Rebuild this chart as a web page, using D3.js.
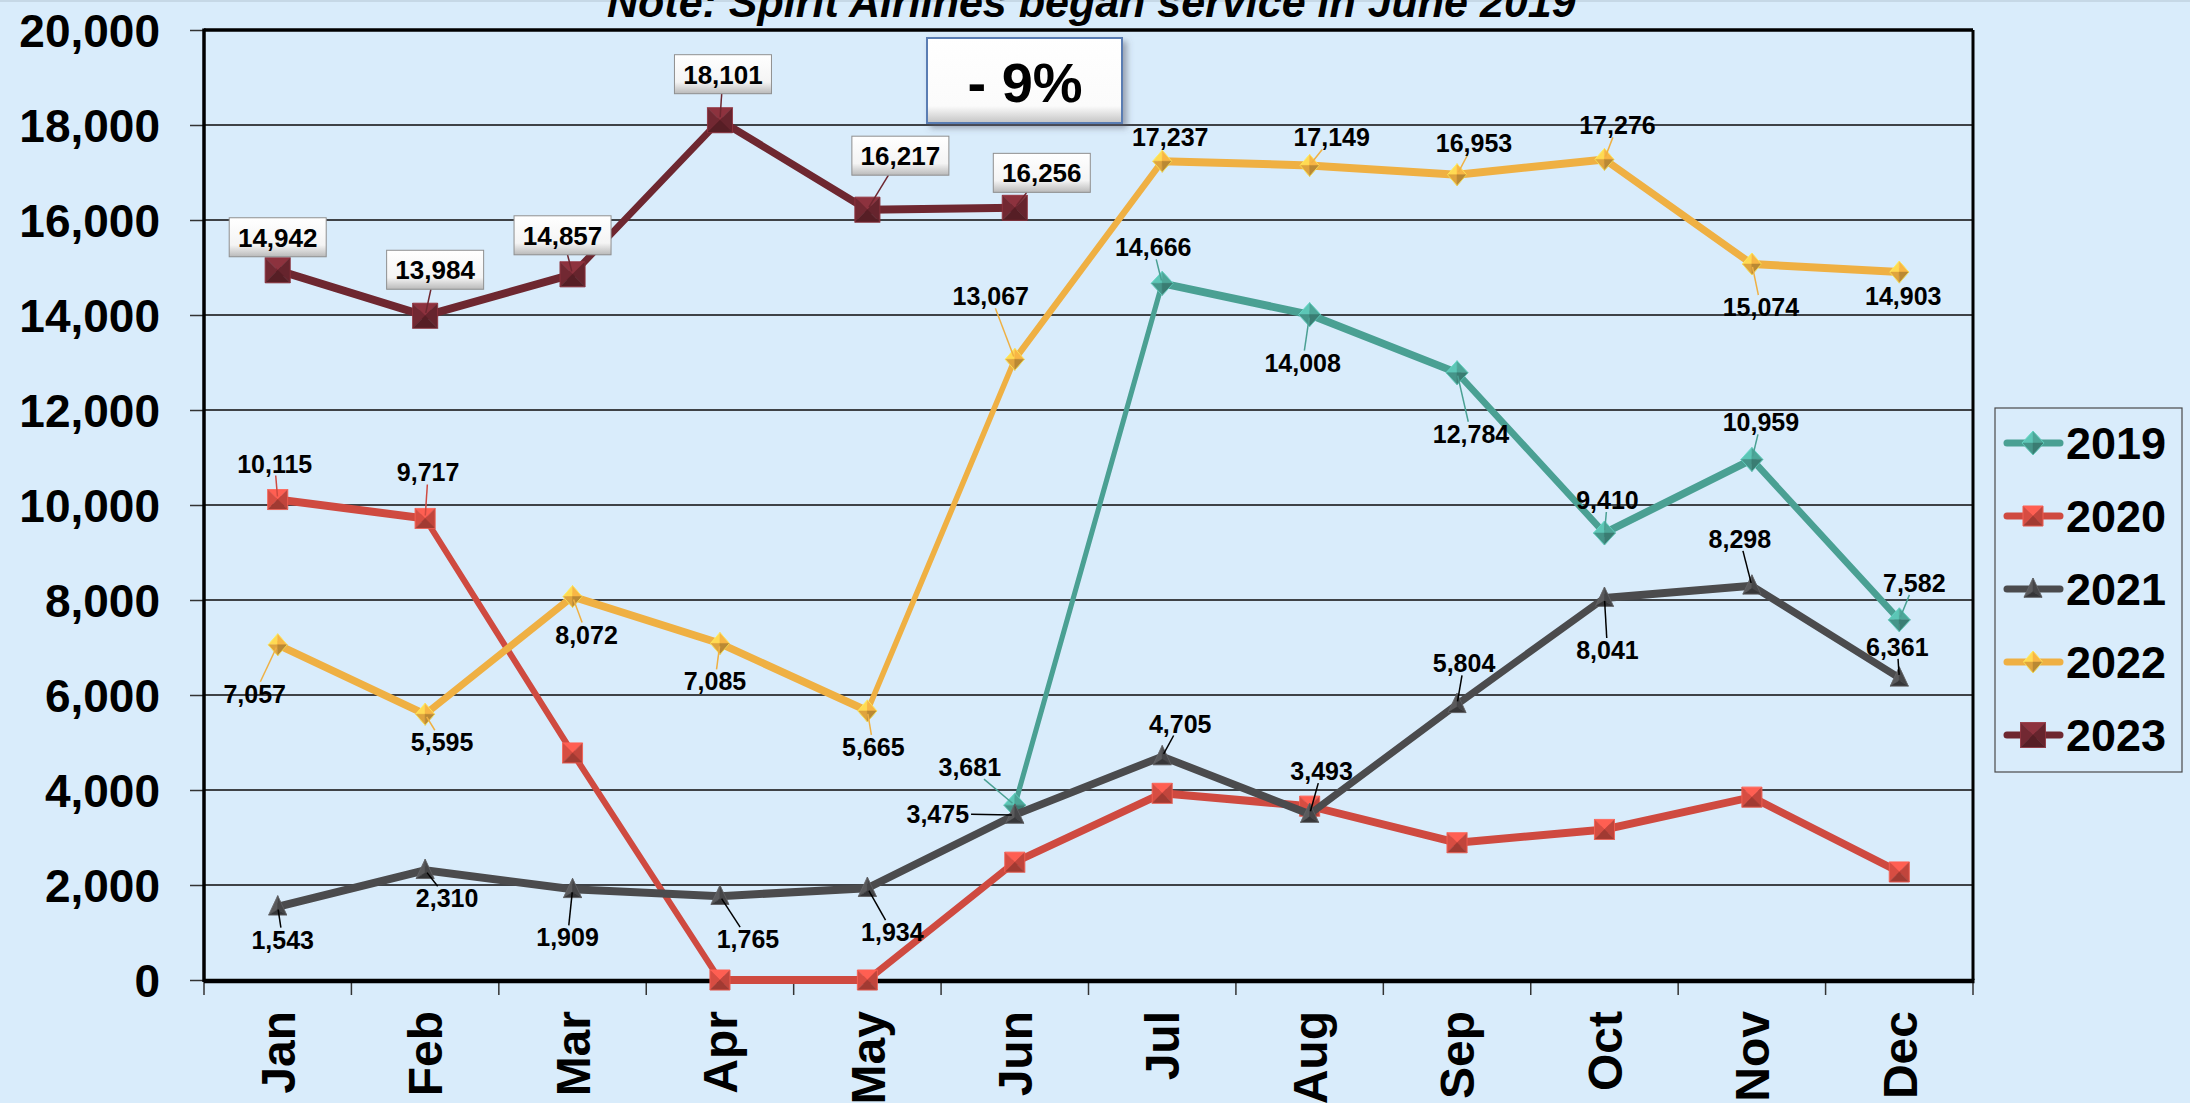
<!DOCTYPE html>
<html lang="en">
<head>
<meta charset="utf-8">
<title>Monthly passengers by year</title>
<script src="https://cdn.jsdelivr.net/npm/d3@7/dist/d3.min.js"></script>
<style>
  body { margin: 0; background: #d9ecfb; }
  svg { display: block; font-family: "Liberation Sans", Arial, sans-serif; }
</style>
</head>
<body>
<div id="chart"></div>
<script>
// ---- data ----
var months = ["Jan","Feb","Mar","Apr","May","Jun","Jul","Aug","Sep","Oct","Nov","Dec"];
var years = ["2019","2020","2021","2022","2023"];
var v2019 = [null,null,null,null,null,3681,14666,14008,12784,9410,10959,7582];
var v2020 = [10115,9717,4780,0,0,2480,3930,3660,2890,3170,3850,2275];
var v2021 = [1543,2310,1909,1765,1934,3475,4705,3493,5804,8041,8298,6361];
var v2022 = [7057,5595,8072,7085,5665,13067,17237,17149,16953,17276,15074,14903];
var v2023 = [14942,13984,14857,18101,16217,16256,null,null,null,null,null,null];
var yTicks = [0,2000,4000,6000,8000,10000,12000,14000,16000,18000,20000];
var noteText = "Note: Spirit Airlines began service in June 2019";
var changeText = "- 9%";

// label offsets from the point (layout only); null = no label
var off2019 = [null,null,null,null,null,[-45,-38],[-9,-36],[-7,48],[14,61],[3,-33],[9,-37],[15,-37]];
var off2020 = [[-3,-36],[3,-46],null,null,null,null,null,null,null,null,null,null];
var off2021 = [[5,33],[22,28],[-5,48],[28,43],[25,44],[-77,-1],[18,-33],[12,-43],[7,-41],[3,52],[-12,-47],[-2,-31]];
var off2022 = [[-23,49],[17,28],[14,38],[-5,38],[6,36],[-24,-63],[8,-24],[22,-28],[17,-32],[13,-34],[9,43],[4,24]];
var off2023 = [[0,-33],[10,-46],[-10,-39],[3,-46],[33,-54],[27,-35],null,null,null,null,null,null];

var series = [
  {name: years[0], values: v2019, offs: off2019, color: "#4aa093", marker: "diamond", mw: 11, mh: 12, lead: "#4aa093"},
  {name: years[1], values: v2020, offs: off2020, color: "#cf4a40", marker: "square", mw: 10, mh: 10, lead: "#cf4a40"},
  {name: years[2], values: v2021, offs: off2021, color: "#4b4b4d", marker: "triangle", mw: 9, mh: 11, lead: "#000"},
  {name: years[3], values: v2022, offs: off2022, color: "#efb043", marker: "diamond", mw: 9.5, mh: 11, lead: "#efb043"},
  {name: years[4], values: v2023, offs: off2023, color: "#6e2730", marker: "square", mw: 12.5, mh: 12.5, lead: "#6e2730", boxed: true}
];

var W = 2190, H = 1103;
var plotL = 204, plotR = 1973, plotT = 30, plotB = 980;

var svg = d3.select("#chart").append("svg").attr("width", W).attr("height", H);
var defs = svg.append("defs");

var g1 = defs.append("linearGradient").attr("id", "btn").attr("x1", 0).attr("y1", 0).attr("x2", 0).attr("y2", 1);
g1.append("stop").attr("offset", "0%").attr("stop-color", "#ffffff");
g1.append("stop").attr("offset", "70%").attr("stop-color", "#f4f4f4");
g1.append("stop").attr("offset", "100%").attr("stop-color", "#b9b9b9");

var g2 = defs.append("linearGradient").attr("id", "big").attr("x1", 0).attr("y1", 0).attr("x2", 0).attr("y2", 1);
g2.append("stop").attr("offset", "0%").attr("stop-color", "#ffffff");
g2.append("stop").attr("offset", "80%").attr("stop-color", "#fbfbfb");
g2.append("stop").attr("offset", "100%").attr("stop-color", "#c4c4c4");

var shadow = defs.append("filter").attr("id", "shadow").attr("x", "-20%").attr("y", "-20%").attr("width", "150%").attr("height", "160%");
shadow.append("feDropShadow").attr("dx", 4).attr("dy", 4).attr("stdDeviation", 3).attr("flood-color", "#556").attr("flood-opacity", 0.5);

svg.append("rect").attr("width", W).attr("height", 2).attr("fill", "#c6d8e6");

var x = d3.scaleBand().domain(months).range([plotL, plotR]);
var y = d3.scaleLinear().domain([0, 20000]).range([plotB, plotT]);
function cx(i) { return x(months[i]) + x.bandwidth() / 2; }

// gridlines
svg.append("g").selectAll("line").data(yTicks.filter(function(t) { return t > 0 && t < 20000; }))
  .join("line")
  .attr("x1", plotL).attr("x2", plotR)
  .attr("y1", function(d) { return y(d); }).attr("y2", function(d) { return y(d); })
  .attr("stroke", "#3f4246").attr("stroke-width", 1.8);

// y axis
var yAxis = svg.append("g").attr("transform", "translate(" + plotL + ",0)")
  .call(d3.axisLeft(y).tickValues(yTicks).tickSize(14).tickPadding(30).tickFormat(d3.format(",")));
yAxis.select(".domain").remove();
yAxis.selectAll(".tick line").attr("stroke", "#333").attr("stroke-width", 1.5);
yAxis.selectAll(".tick text").attr("font-size", 46).attr("font-weight", "bold").attr("fill", "#000")
  .attr("font-family", "Liberation Sans, Arial, sans-serif").attr("dy", "0.36em");

// x axis: ticks at band edges, labels rotated
var edges = d3.range(months.length + 1).map(function(i) { return plotL + i * x.step(); });
svg.append("g").selectAll("line").data(edges).join("line")
  .attr("x1", function(d) { return d; }).attr("x2", function(d) { return d; })
  .attr("y1", plotB).attr("y2", plotB + 15)
  .attr("stroke", "#333").attr("stroke-width", 1.5);

svg.append("g").selectAll("text").data(months).join("text")
  .attr("transform", function(d, i) { return "translate(" + cx(i) + "," + (plotB + 31) + ") rotate(-90)"; })
  .attr("text-anchor", "end").attr("dy", "0.36em")
  .attr("font-size", 48).attr("font-weight", "bold").attr("fill", "#000")
  .text(function(d) { return d; });

// plot border
svg.append("line").attr("x1", plotL).attr("x2", plotR).attr("y1", plotT).attr("y2", plotT).attr("stroke", "#000").attr("stroke-width", 3.5);
svg.append("line").attr("x1", plotR).attr("x2", plotR).attr("y1", plotT).attr("y2", plotB).attr("stroke", "#000").attr("stroke-width", 3);
svg.append("line").attr("x1", plotL).attr("x2", plotL).attr("y1", plotT - 1.5).attr("y2", plotB + 2).attr("stroke", "#000").attr("stroke-width", 3.5);
svg.append("line").attr("x1", plotL).attr("x2", plotR + 1.5).attr("y1", plotB + 1).attr("y2", plotB + 1).attr("stroke", "#000").attr("stroke-width", 4.5);

// shaded 3D-looking markers
function faces(type, w, h) {
  if (type === "square") {
    return [
      [[-w,-h],[w,-h],[0,0]],
      [[-w,h],[-w,-h],[0,0]],
      [[w,-h],[w,h],[0,0]],
      [[w,h],[-w,h],[0,0]]
    ];
  }
  if (type === "diamond") {
    return [
      [[-w,0],[0,-h],[0,0]],
      [[0,-h],[w,0],[0,0]],
      [[-w,0],[0,h],[0,0]],
      [[w,0],[0,h],[0,0]]
    ];
  }
  var b = h * 0.75, c = h * 0.25;
  return [
    [[0,-h],[-w,b],[0,c]],
    [[0,-h],[w,b],[0,c]],
    [[-w,b],[w,b],[0,c]]
  ];
}
function shades(color, type) {
  var c = d3.color(color);
  if (type === "triangle") return [c.brighter(0.5), c.darker(0.2), c.darker(0.9)];
  if (type === "diamond") return [c.brighter(0.6), c.brighter(0.1), c.darker(0.2), c.darker(0.7)];
  return [c.brighter(0.7), c.brighter(0.1), c.darker(0.2), c.darker(0.7)];
}
function drawMarker(sel, type, color, w, h) {
  var f = faces(type, w, h), s = shades(color, type);
  sel.selectAll("path").data(f).join("path")
    .attr("d", function(p) { return "M" + p.join("L") + "Z"; })
    .attr("fill", function(p, i) { return s[i]; })
    .attr("stroke", function(p, i) { return s[i]; }).attr("stroke-width", 0.5);
  var outline = type === "square" ? [[-w,-h],[w,-h],[w,h],[-w,h]]
    : type === "diamond" ? [[0,-h],[w,0],[0,h],[-w,0]] : [[0,-h],[w,h*0.75],[-w,h*0.75]];
  sel.append("path").attr("d", "M" + outline.join("L") + "Z")
    .attr("fill", "none").attr("stroke", d3.color(color).brighter(0.9)).attr("stroke-width", 1).attr("stroke-opacity", 0.7);
}

// ribbon-like lines (thicker when flat, thinner when steep)
var ribbon = d3.area()
  .defined(function(d) { return d != null; })
  .x(function(d, i) { return cx(i); })
  .y0(function(d) { return y(d) - 2; })
  .y1(function(d) { return y(d) + 2; });

series.forEach(function(s) {
  var g = svg.append("g").attr("class", "series");
  g.append("path").attr("d", ribbon(s.values))
    .attr("fill", s.color).attr("stroke", s.color).attr("stroke-width", 4).attr("stroke-linejoin", "round");
  s.values.forEach(function(v, i) {
    if (v == null) return;
    var m = g.append("g").attr("transform", "translate(" + cx(i) + "," + y(v) + ")");
    drawMarker(m, s.marker, s.color, s.mw, s.mh);
  });
});

// data labels with leader lines
var fmt = d3.format(",");
var leaders = svg.append("g");
var labels = svg.append("g");
series.forEach(function(s) {
  s.values.forEach(function(v, i) {
    var o = s.offs[i];
    if (v == null || !o) return;
    var px = cx(i), py = y(v), lx = px + o[0], ly = py + o[1];
    var hw, hh;
    if (s.boxed) {
      hw = 48.5; hh = 19.5;
    } else {
      hw = (fmt(v).length - 1) * 0.556 * 25 / 2 + 0.139 * 25 + 2; hh = 12;
    }
    var dx = px - lx, dy = py - ly;
    var t = Math.min(dx === 0 ? Infinity : hw / Math.abs(dx), dy === 0 ? Infinity : hh / Math.abs(dy));
    var sx = lx + t * dx, sy = ly + t * dy;
    var gap = Math.hypot(px - sx, py - sy);
    if (gap > 15) {
      leaders.append("line").attr("x1", sx).attr("y1", sy)
        .attr("x2", px - (dx / Math.hypot(dx, dy)) * 3).attr("y2", py - (dy / Math.hypot(dx, dy)) * 3)
        .attr("stroke", s.lead).attr("stroke-width", 1.5);
    }
    if (s.boxed) {
      labels.append("rect").attr("x", lx - hw).attr("y", ly - hh).attr("width", hw * 2).attr("height", hh * 2)
        .attr("fill", "url(#btn)").attr("stroke", "#8f8f8f").attr("stroke-width", 1);
    }
    labels.append("text").attr("x", lx).attr("y", ly).attr("dy", "0.36em")
      .attr("text-anchor", "middle").attr("font-size", s.boxed ? 26 : 25).attr("font-weight", "bold").attr("fill", "#000")
      .text(fmt(v));
  });
});

// title note (cut off at top like the original)
svg.append("text").attr("x", 607).attr("y", 17)
  .attr("font-size", 43).attr("font-weight", "bold").attr("font-style", "italic").attr("fill", "#000")
  .text(noteText);

// change box
svg.append("rect").attr("x", 927).attr("y", 38).attr("width", 195).attr("height", 85)
  .attr("fill", "url(#big)").attr("stroke", "#5a7db3").attr("stroke-width", 2).attr("filter", "url(#shadow)");
svg.append("text").attr("x", 1025).attr("y", 102).attr("text-anchor", "middle")
  .attr("font-size", 56).attr("font-weight", "bold").attr("fill", "#000").text(changeText);

// legend
var legend = svg.append("g");
legend.append("rect").attr("x", 1995).attr("y", 408).attr("width", 187).attr("height", 364)
  .attr("fill", "none").attr("stroke", "#4a4a4a").attr("stroke-width", 1.2);
var ly0 = 443, lstep = 73;
series.forEach(function(s, k) {
  var yy = ly0 + k * lstep;
  var it = legend.append("g");
  it.append("line").attr("x1", 2007).attr("x2", 2060).attr("y1", yy).attr("y2", yy)
    .attr("stroke", s.color).attr("stroke-width", 7).attr("stroke-linecap", "round");
  var m = it.append("g").attr("transform", "translate(2033," + yy + ")");
  drawMarker(m, s.marker, s.color, s.mw, s.mh);
  it.append("text").attr("x", 2066).attr("y", yy).attr("dy", "0.36em")
    .attr("font-size", 45).attr("font-weight", "bold").attr("fill", "#000").text(s.name);
});
</script>
</body>
</html>
